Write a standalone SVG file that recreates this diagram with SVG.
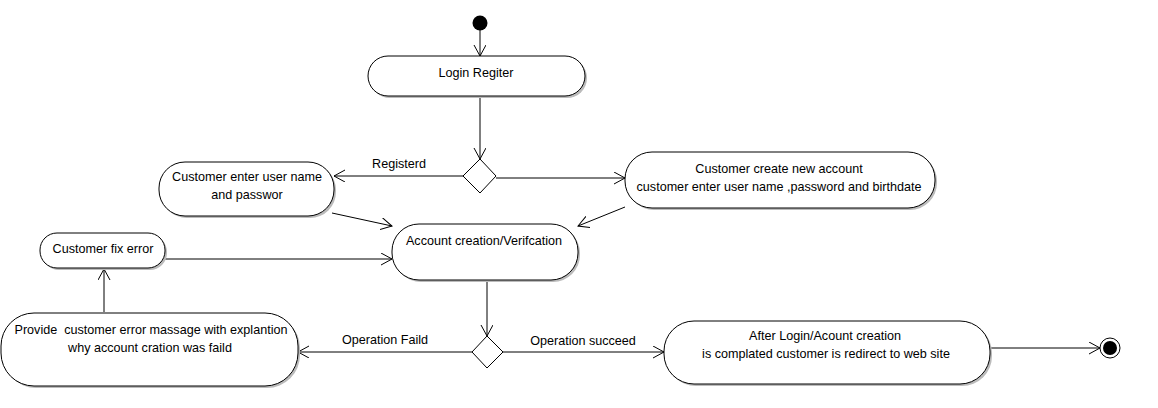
<svg xmlns="http://www.w3.org/2000/svg" width="1158" height="408" viewBox="0 0 1158 408">
<defs>
<marker id="open" markerUnits="userSpaceOnUse" markerWidth="14" markerHeight="14" refX="11" refY="6" orient="auto">
<path d="M0,0 L11,6 L0,12" fill="none" stroke="#000" stroke-width="1"/>
</marker>
</defs>
<style>
.node rect.sh{fill:#bbb;stroke:none}
.node rect.b{fill:#fff;stroke:#000;stroke-width:1}
text{font-family:"Liberation Sans",Arial,sans-serif;font-size:12.6px;fill:#000;text-anchor:middle;white-space:pre}
.edge{fill:none;stroke:#000;stroke-width:1;marker-end:url(#open)}
.dia{fill:#fff;stroke:#000;stroke-width:1}
</style>
<rect width="1158" height="408" fill="#fff"/>
<g id="connectors">
<path class="edge" d="M480,30 L480,56"/>
<path class="edge" d="M480,96 L480,159"/>
<path class="edge" d="M463,176 L334,176"/>
<path class="edge" d="M496,178 L625,178"/>
<path class="edge" d="M332,213 L392,226"/>
<path class="edge" d="M625,207 L578,226"/>
<path class="edge" d="M165,259 L392,259"/>
<path class="edge" d="M104,312 L104,269"/>
<path class="edge" d="M487,280 L487,336"/>
<path class="edge" d="M472,352 L298,352"/>
<path class="edge" d="M503,352 L664,352"/>
<path class="edge" d="M990,348 L1100,348"/>
<text x="399" y="168">Registerd</text>
<text x="385" y="344">Operation Faild</text>
<text x="583" y="345">Operation succeed</text>
</g>
<g id="start"><circle cx="480" cy="23" r="7.5" fill="#000"/></g>
<g id="login" class="node">
<rect class="sh" x="370" y="58" width="217" height="40" rx="20"/>
<rect class="b" x="368" y="56" width="217" height="40" rx="20"/>
<text x="476" y="77">Login Regiter</text>
</g>
<g id="decision1"><path class="dia" d="M480,159 L496,176 L480,193 L463,176 Z"/></g>
<g id="enter" class="node">
<rect class="sh" x="161" y="164" width="175" height="54" rx="26"/>
<rect class="b" x="159" y="162" width="175" height="54" rx="26"/>
<text x="247" y="181">Customer enter user name</text>
<text x="247" y="199">and passwor</text>
</g>
<g id="create" class="node">
<rect class="sh" x="627" y="154" width="310" height="56" rx="27"/>
<rect class="b" x="625" y="152" width="310" height="56" rx="27"/>
<text x="779" y="173">Customer create new account</text>
<text x="779" y="191">customer enter user name ,password and birthdate</text>
</g>
<g id="verify" class="node">
<rect class="sh" x="394" y="226" width="186" height="56" rx="27"/>
<rect class="b" x="392" y="224" width="186" height="56" rx="27"/>
<text x="484" y="245">Account creation/Verifcation</text>
</g>
<g id="fix" class="node">
<rect class="sh" x="42" y="235" width="125" height="35" rx="17"/>
<rect class="b" x="40" y="233" width="125" height="35" rx="17"/>
<text x="103" y="253">Customer fix error</text>
</g>
<g id="provide" class="node">
<rect class="sh" x="3" y="315" width="297" height="73" rx="33"/>
<rect class="b" x="1" y="313" width="297" height="73" rx="33"/>
<text x="151" y="334" xml:space="preserve">Provide  customer error massage with explantion</text>
<text x="150" y="352">why account cration was faild</text>
</g>
<g id="decision2"><path class="dia" d="M487,336 L503,352 L487,368 L472,352 Z"/></g>
<g id="after" class="node">
<rect class="sh" x="666" y="323" width="326" height="63" rx="30"/>
<rect class="b" x="664" y="321" width="326" height="63" rx="30"/>
<text x="825" y="340">After Login/Acount creation</text>
<text x="826" y="358">is complated customer is redirect to web site</text>
</g>
<g id="end">
<circle cx="1110" cy="348" r="10" fill="#fff" stroke="#000"/>
<circle cx="1110" cy="348" r="7" fill="#000"/>
</g>
</svg>
